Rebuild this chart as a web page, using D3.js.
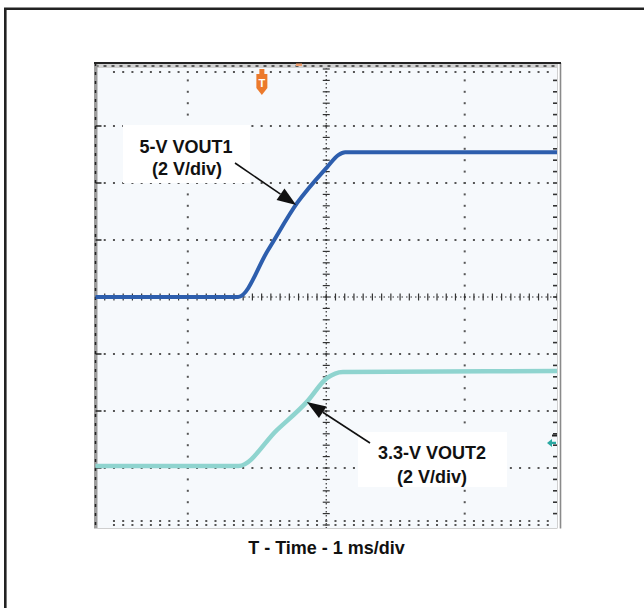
<!DOCTYPE html>
<html>
<head>
<meta charset="utf-8">
<script src="https://cdn.jsdelivr.net/npm/d3@7"></script>
<style>
  html, body { margin: 0; padding: 0; background: #fff; }
  svg { display: block; }
  text { font-family: "Liberation Sans", Arial, Helvetica, sans-serif; font-weight: bold; fill: #111; }
</style>
</head>
<body>
<svg id="chart" width="644" height="608"></svg>
<script>
// Start-up of two tracking outputs, scope capture (1 ms/div, 2 V/div).
const ch1Name = "5-V VOUT1";
const ch2Name = "3.3-V VOUT2";
const scaleLabel = "(2 V/div)";
const xTitle = "T - Time - 1 ms/div";

// Channel 1 (time in ms from left edge of screen, volts)
const ch1Time  = [0, 3.09, 3.74, 4.37, 5.02, 5.26, 5.41, 10];
const ch1Volts = [0, 0,    1.65, 3.30, 4.56, 4.98, 5.08, 5.08];

// Channel 2
const ch2Time  = [0,    3.10, 3.93, 4.58, 5.02, 5.36, 10];
const ch2Volts = [0.07, 0.07, 1.33, 2.32, 3.16, 3.37, 3.40];

// Screen settings
const timeDivs = 10, voltDivs = 8, voltsPerDiv = 2;
const ch1GroundDiv = 0, ch2GroundDiv = -3;
const gridCols = [2, 8];              // dotted vertical grid lines (divisions)
const gridRows = [-3, -2, -1, 1, 2, 3];

const svg = d3.select("#chart");

// Outer frame (left and top edges)
svg.append("path")
  .attr("d", "M5.3,610 V8.7 H646")
  .attr("fill", "none").attr("stroke", "#222").attr("stroke-width", 2.6);

const x = d3.scaleLinear().domain([0, timeDivs]).range([95.5, 557]);
const yDiv = d3.scaleLinear().domain([-voltDivs / 2, voltDivs / 2]).range([525, 69]);
const yCh1 = v => yDiv(v / voltsPerDiv + ch1GroundDiv);
const yCh2 = v => yDiv(v / voltsPerDiv + ch2GroundDiv);

const L = 95.5, R = 557, T = 63, B = 528.5;

// Screen background
svg.append("rect").attr("x", L).attr("y", T).attr("width", R - L).attr("height", B - T)
  .attr("fill", "#f6f9fc");

const g = svg.append("g");
const minorX = d3.range(0, timeDivs * 5 + 1).map(i => i / 5);
const minorY = d3.range(-voltDivs * 5 / 2, voltDivs * 5 / 2 + 1).map(i => i / 5);

// Dotted horizontal grid lines
gridRows.forEach(r => {
  g.selectAll(null).data(minorX.filter(t => t > 0.1 && t < timeDivs - 0.1)).join("rect")
    .attr("x", d => x(d) - 1).attr("y", yDiv(r) - 1).attr("width", 2).attr("height", 2)
    .attr("fill", "#555");
});
// Dotted vertical grid lines
gridCols.forEach(c => {
  g.selectAll(null).data(minorY.filter(v => Math.abs(v) < 3.9)).join("rect")
    .attr("x", x(c) - 1).attr("y", d => yDiv(d) - 1).attr("width", 2).attr("height", 2)
    .attr("fill", "#555");
});

// Center cross-hair with minor ticks
const cx = x(timeDivs / 2), cy = yDiv(0);
g.append("line").attr("x1", L).attr("x2", R).attr("y1", cy).attr("y2", cy)
  .attr("stroke", "#333").attr("stroke-width", 1.2).attr("stroke-dasharray", "1.5,3");
g.append("line").attr("x1", cx).attr("x2", cx).attr("y1", T).attr("y2", B)
  .attr("stroke", "#333").attr("stroke-width", 1.2).attr("stroke-dasharray", "1.5,2.5");
g.selectAll(null).data(minorX).join("line")
  .attr("x1", d => x(d)).attr("x2", d => x(d))
  .attr("y1", cy - 3.5).attr("y2", cy + 3.5)
  .attr("stroke", "#333").attr("stroke-width", 1.2);
g.selectAll(null).data(minorY).join("line")
  .attr("x1", cx - 3.5).attr("x2", cx + 3.5)
  .attr("y1", d => yDiv(d)).attr("y2", d => yDiv(d))
  .attr("stroke", "#333").attr("stroke-width", 1.2);

// Edge graticule: top band, bottom dots, side ticks
g.append("rect").attr("x", L).attr("y", T + 1).attr("width", R - L).attr("height", 4).attr("fill", "#d2d2d2");
g.append("line").attr("x1", L).attr("x2", R).attr("y1", T + 3).attr("y2", T + 3)
  .attr("stroke", "#333").attr("stroke-width", 1.5).attr("stroke-dasharray", "3,5");
g.selectAll(null).data(minorX.filter(t => t > 0.3 && t < timeDivs - 0.1)).join("rect")
  .attr("x", d => x(d) - 1).attr("y", T + 8).attr("width", 2).attr("height", 2).attr("fill", "#555");
[B - 7.5, B - 3.5].forEach(yy => {
  g.selectAll(null).data(minorX.filter(t => t > 0.3 && t < timeDivs - 0.1)).join("rect")
    .attr("x", d => x(d) - 1).attr("y", yy - 1).attr("width", 2).attr("height", 2).attr("fill", "#555");
});
g.append("rect").attr("x", L - 1.5).attr("y", T).attr("width", 3.5).attr("height", B - T).attr("fill", "#9c9c9c");
g.append("line").attr("x1", L).attr("x2", L).attr("y1", T).attr("y2", B)
  .attr("stroke", "#222").attr("stroke-width", 1.5).attr("stroke-dasharray", "3,6");
g.selectAll(null).data(d3.range(-3, 4)).join("line")
  .attr("x1", L).attr("x2", L + 6).attr("y1", d => yDiv(d)).attr("y2", d => yDiv(d))
  .attr("stroke", "#222").attr("stroke-width", 1.5);
g.selectAll(null).data(minorY.filter(v => Math.abs(v) < 3.9)).join("line")
  .attr("x1", R - 4).attr("x2", R).attr("y1", d => yDiv(d)).attr("y2", d => yDiv(d))
  .attr("stroke", "#333").attr("stroke-width", 1.6);
g.append("line").attr("x1", R + 0.5).attr("x2", R + 0.5).attr("y1", T).attr("y2", B)
  .attr("stroke", "#d0d0d0").attr("stroke-width", 1);
g.append("line").attr("x1", R + 3.5).attr("x2", R + 3.5).attr("y1", T).attr("y2", B)
  .attr("stroke", "#8a8a8a").attr("stroke-width", 1.6);
g.append("line").attr("x1", L).attr("x2", R).attr("y1", B).attr("y2", B)
  .attr("stroke", "#cfcfcf").attr("stroke-width", 1.2);
g.append("line").attr("x1", L - 1.5).attr("x2", R + 4).attr("y1", T).attr("y2", T)
  .attr("stroke", "#222").attr("stroke-width", 2);

// Trigger marker
const trig = svg.append("g").attr("transform", `translate(${x(3.605)},0)`);
trig.append("rect").attr("x", -2.5).attr("y", 69).attr("width", 5).attr("height", 5).attr("fill", "#ec7a2c");
trig.append("path").attr("d", "M-5.5,74 H5.5 V88 L0,95 L-5.5,88 Z").attr("fill", "#ec7a2c");
trig.append("text").attr("x", 0).attr("y", 87).attr("text-anchor", "middle")
  .style("font-size", "11px").style("fill", "#fff").text("T");
svg.append("rect").attr("x", 296).attr("y", T + 0.5).attr("width", 6).attr("height", 2.5).attr("fill", "#f0a070");

// Channel 2 ground marker
const gnd = svg.append("g").attr("transform", `translate(547,${yDiv(-2.56)})`);
gnd.append("path").attr("d", "M0,0 L5,-4 L5,-1.2 L9,-1.2 L9,1.2 L5,1.2 L5,4 Z").attr("fill", "#2aa8a2");
svg.append("line").attr("x1", 552).attr("x2", 557).attr("y1", yDiv(-2.43)).attr("y2", yDiv(-2.43))
  .attr("stroke", "#222").attr("stroke-width", 2);

// Label backgrounds
svg.append("rect").attr("x", 123).attr("y", 125).attr("width", 127).attr("height", 58).attr("fill", "#fff");
svg.append("rect").attr("x", 358).attr("y", 432).attr("width", 149).attr("height", 55).attr("fill", "#fff");

// Traces
const line1 = d3.line().x((d, i) => x(ch1Time[i])).y(d => yCh1(d)).curve(d3.curveMonotoneX);
const line2 = d3.line().x((d, i) => x(ch2Time[i])).y(d => yCh2(d)).curve(d3.curveMonotoneX);
svg.append("path").attr("d", line2(ch2Volts)).attr("fill", "none")
  .attr("stroke", "#8fd4cf").attr("stroke-width", 4.5).attr("stroke-linejoin", "round");
svg.append("path").attr("d", line1(ch1Volts)).attr("fill", "none")
  .attr("stroke", "#2d5ead").attr("stroke-width", 4).attr("stroke-linejoin", "round");

// Annotation arrows
function arrow(x1, y1, x2, y2) {
  const a = Math.atan2(y2 - y1, x2 - x1), len = 19, w = 7;
  const bx = x2 - len * Math.cos(a), by = y2 - len * Math.sin(a);
  svg.append("line").attr("x1", x1).attr("y1", y1).attr("x2", bx).attr("y2", by)
    .attr("stroke", "#111").attr("stroke-width", 1.6);
  svg.append("path").attr("d",
    `M${x2},${y2} L${bx + w * Math.sin(a)},${by - w * Math.cos(a)} L${bx - w * Math.sin(a)},${by + w * Math.cos(a)} Z`)
    .attr("fill", "#111");
}
// arrow tips sit on the traces
arrow(235, 163, x(4.37) - 1, yCh1(3.3) + 2);
arrow(370, 443, x(4.58), yCh2(2.32));

svg.append("text").attr("x", 186).attr("y", 152.5).attr("text-anchor", "middle")
  .style("font-size", "18px").text(ch1Name);
svg.append("text").attr("x", 187).attr("y", 174.5).attr("text-anchor", "middle")
  .style("font-size", "18px").text(scaleLabel);
svg.append("text").attr("x", 432).attr("y", 458.5).attr("text-anchor", "middle")
  .style("font-size", "18px").text(ch2Name);
svg.append("text").attr("x", 432).attr("y", 482.5).attr("text-anchor", "middle")
  .style("font-size", "18px").text(scaleLabel);

svg.append("text").attr("x", 326.5).attr("y", 553.5).attr("text-anchor", "middle")
  .style("font-size", "18px").text(xTitle);
</script>
</body>
</html>
